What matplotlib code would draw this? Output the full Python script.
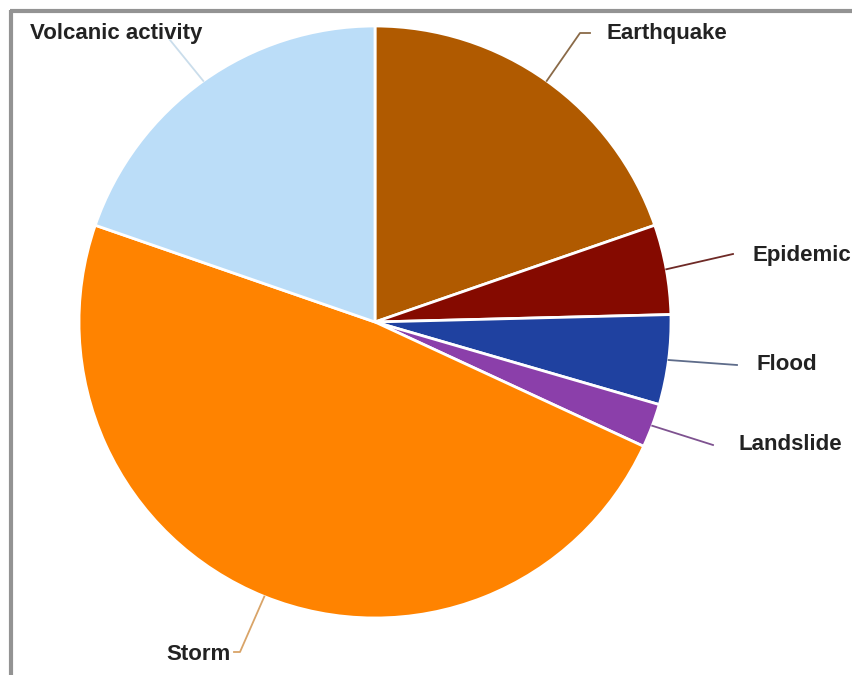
import numpy as np
import matplotlib.pyplot as plt

# Share of disaster types
categories = ["Earthquake", "Epidemic", "Flood", "Landslide", "Storm", "Volcanic activity"]
shares = [19.7, 4.9, 4.9, 2.4, 48.4, 19.7]
colors = ["#B05A00", "#850A00", "#1F41A0", "#8B3FAA", "#FF8300", "#BBDDF8"]
line_colors = ["#8A6A48", "#6E2A26", "#5E6C8A", "#7E5290", "#D9A468", "#CADDEB"]

# label layout in pixels from the top-left: elbow, end of leader, text anchor, alignment
elbows = [(580, 33), (733, 254), (737, 365), (713, 445), (240, 652), (170, 40)]
ends = [(590, 33), (733, 254), (737, 365), (713, 445), (234, 652), (170, 40)]
text_pos = [(607, 33), (752, 256), (757, 365), (739, 444), (231, 655), (30, 33)]
text_ha = ["left", "left", "left", "left", "right", "left"]

W, H = 852, 675
cx, cy, R = 375, 322, 296


def fy(y):
    # pixel row -> data y
    return H - y


fig = plt.figure(figsize=(W / 100, H / 100), dpi=100)
ax = fig.add_axes([0, 0, 1, 1])

wedges, _ = ax.pie(shares, colors=colors, startangle=90, counterclock=False,
                   center=(cx, fy(cy)), radius=R, frame=True,
                   wedgeprops=dict(edgecolor="white", linewidth=2))
ax.set_xlim(0, W)
ax.set_ylim(0, H)
ax.axis("off")

for w, lab, lc, el, en, tp, ha in zip(wedges, categories, line_colors, elbows, ends, text_pos, text_ha):
    mid = np.deg2rad((w.theta1 + w.theta2) / 2)
    px = cx + R * np.cos(mid)
    py = fy(cy) + R * np.sin(mid)
    ax.plot([px, el[0], en[0]], [py, fy(el[1]), fy(en[1])], color=lc, lw=1.3)
    ax.text(tp[0], fy(tp[1]), lab, ha=ha, va="center", fontsize=16, fontweight="bold",
            family="Liberation Sans", color="#222222")

# grey frame along the top and left edges
ax.plot([10, W], [fy(11), fy(11)], color="#939393", lw=3, solid_capstyle="butt")
ax.plot([11, 11], [fy(10), 0], color="#939393", lw=3, solid_capstyle="butt")

fig.savefig("out.png", dpi=100)
